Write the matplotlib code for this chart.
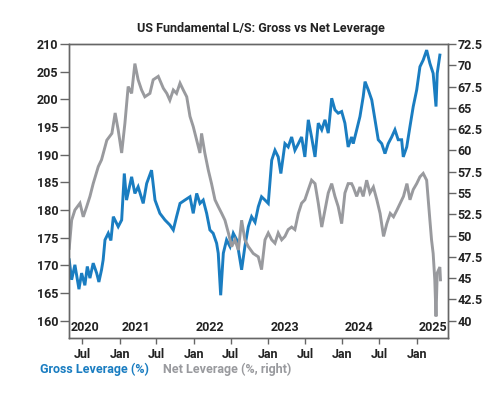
import matplotlib
matplotlib.use("Agg")
import matplotlib.pyplot as plt
import matplotlib.dates as mdates
import matplotlib.transforms as mtransforms
import pandas as pd

BLUE, GRAY, DARK, SPINE = "#1A7DC1", "#999A9E", "#222222", "#666666"
FONT = "Roboto"

# Gross leverage (%), left axis
gross_dates = [
 "2020-04-28","2020-05-10","2020-05-26","2020-06-15","2020-06-28","2020-07-14","2020-07-26",
 "2020-08-08","2020-08-24","2020-09-10","2020-09-21","2020-10-04","2020-10-12","2020-10-21",
 "2020-11-06","2020-11-19","2020-12-01","2020-12-25","2021-01-11","2021-01-24","2021-02-04",
 "2021-03-01","2021-03-17","2021-04-02","2021-04-27","2021-05-14","2021-06-07","2021-06-24",
 "2021-07-18","2021-08-12","2021-09-05","2021-09-22","2021-10-08","2021-10-25","2021-11-18",
 "2021-12-13","2021-12-29","2022-01-15","2022-01-31","2022-02-16","2022-03-05","2022-03-21",
 "2022-04-06","2022-04-23","2022-05-01","2022-05-13","2022-05-26","2022-06-11","2022-06-28",
 "2022-07-14","2022-07-31","2022-08-24","2022-09-09","2022-09-26","2022-10-12","2022-10-29",
 "2022-11-14","2022-11-30","2022-12-17","2023-01-02","2023-01-19","2023-02-04","2023-02-20",
 "2023-03-05","2023-03-25","2023-04-10","2023-04-27","2023-05-13","2023-05-30","2023-06-15",
 "2023-07-01","2023-07-18","2023-08-03","2023-08-20","2023-09-05","2023-09-22","2023-10-08",
 "2023-10-24","2023-11-10","2023-11-26","2023-12-12","2023-12-29","2024-01-14","2024-01-30",
 "2024-02-16","2024-02-24","2024-03-12","2024-03-28","2024-04-13","2024-04-22","2024-05-08",
 "2024-05-25","2024-06-10","2024-06-26","2024-07-13","2024-07-29","2024-08-14","2024-08-31",
 "2024-09-16","2024-10-02","2024-10-19","2024-10-27","2024-11-13","2024-11-29","2024-12-15",
 "2025-01-01","2025-01-17","2025-02-02","2025-02-19","2025-03-07","2025-03-23","2025-04-06",
 "2025-04-12","2025-04-25",
]
gross = [
 171.0,167.4,170.1,165.7,168.6,166.4,169.8,
 167.7,170.4,168.6,167.0,169.2,171.0,174.6,
 175.8,174.5,178.8,177.0,178.2,186.6,181.8,
 186.0,183.0,184.2,181.2,184.8,187.2,181.8,
 179.4,178.2,177.3,176.4,178.8,181.2,181.8,
 182.4,179.4,183.0,181.2,181.8,179.4,176.4,
 175.8,174.0,172.2,164.6,172.2,174.6,173.4,
 175.8,174.6,169.2,173.4,177.0,178.8,177.8,
 180.6,182.4,181.8,181.2,189.0,190.8,189.6,
 186.6,192.0,191.4,193.2,190.8,192.0,193.2,
 189.6,196.3,193.2,189.6,195.7,194.5,196.3,
 193.9,200.2,198.1,197.5,197.8,195.7,191.4,
 193.2,192.0,194.5,196.9,200.5,203.2,201.7,
 199.9,196.3,192.7,192.0,190.2,192.0,193.2,
 194.5,192.7,192.7,189.6,191.4,195.1,198.7,
 201.7,205.9,207.1,208.9,206.5,204.7,198.7,
 204.7,208.0,
]

# Net leverage (%), right axis
net_dates = [
 "2020-04-28","2020-05-10","2020-05-26","2020-06-20","2020-07-06","2020-07-23","2020-08-08",
 "2020-08-24","2020-09-18","2020-10-04","2020-10-30","2020-11-24","2020-12-10","2020-12-25",
 "2021-01-11","2021-01-27","2021-02-12","2021-03-01","2021-03-17","2021-04-02","2021-04-19",
 "2021-05-05","2021-05-30","2021-06-15","2021-07-10","2021-08-04","2021-08-21","2021-09-05",
 "2021-09-22","2021-10-08","2021-10-25","2021-11-10","2021-11-27","2021-12-13","2021-12-29",
 "2022-01-15","2022-01-31","2022-02-08","2022-02-24","2022-03-13","2022-03-29","2022-04-15",
 "2022-05-01","2022-05-18","2022-06-03","2022-06-20","2022-07-06","2022-07-22","2022-08-08",
 "2022-08-24","2022-09-09","2022-09-26","2022-10-20","2022-11-14","2022-11-30","2022-12-17",
 "2023-01-02","2023-01-19","2023-02-04","2023-02-20","2023-03-09","2023-03-25","2023-04-10",
 "2023-04-27","2023-05-13","2023-05-30","2023-06-15","2023-07-01","2023-07-18","2023-08-03",
 "2023-08-20","2023-09-05","2023-09-22","2023-10-08","2023-10-24","2023-11-10","2023-11-26",
 "2023-12-12","2023-12-29","2024-01-14","2024-01-30","2024-02-16","2024-02-24","2024-03-12",
 "2024-03-28","2024-04-13","2024-04-30","2024-05-16","2024-06-02","2024-06-19","2024-07-05",
 "2024-07-22","2024-08-07","2024-08-24","2024-09-09","2024-09-26","2024-10-12","2024-10-28",
 "2024-11-14","2024-11-29","2024-12-15","2025-01-01","2025-01-17","2025-02-02","2025-02-19",
 "2025-03-07","2025-03-15","2025-03-23","2025-03-31","2025-04-06","2025-04-12","2025-04-25",
 "2025-04-28",
]
net = [
 48.5,51.8,53.0,53.8,52.2,53.4,54.6,
 56.1,58.1,58.9,61.2,62.0,64.4,62.4,
 59.7,63.2,67.5,66.7,70.2,68.3,67.1,
 66.3,66.7,68.3,68.7,67.3,66.7,65.9,
 67.1,66.7,67.9,67.1,66.3,64.0,62.8,
 61.2,59.7,62.0,59.7,57.7,56.1,54.2,
 53.4,52.6,51.8,50.3,48.7,49.5,48.3,
 51.8,49.5,48.7,47.9,47.5,46.0,49.5,
 50.3,49.5,49.1,50.3,49.5,49.9,50.7,
 51.0,50.7,52.6,53.8,54.2,55.4,56.5,
 56.1,53.8,51.0,53.0,55.0,56.1,54.6,
 53.4,51.4,55.0,56.1,56.1,55.7,54.6,
 55.7,54.6,56.5,55.0,55.7,54.2,52.6,
 49.9,51.4,52.6,52.2,53.0,53.8,54.6,
 56.1,54.2,55.4,56.1,56.9,57.3,56.5,
 51.8,49.5,47.9,44.8,40.5,45.6,46.3,
 44.8,
]

year_labels = ["2020", "2021", "2022", "2023", "2024", "2025"]
x_range = ["2020-04-27", "2025-06-04"]

gd = pd.to_datetime(gross_dates)
nd = pd.to_datetime(net_dates)
xlim = pd.to_datetime(x_range)

fig = plt.figure(figsize=(5.0, 3.93), dpi=100)
ax = fig.add_axes([0.138, 0.1407, 0.758, 0.7473])
ax2 = ax.twinx()

ax.plot(gd, gross, color=BLUE, lw=2.1, solid_joinstyle="miter")
ax2.plot(nd, net, color=GRAY, lw=2.1, solid_joinstyle="miter")

ax.set_xlim(xlim[0], xlim[1])
ax.set_ylim(156.93, 210)
ax2.set_ylim(38.0, 72.5)
ax.set_yticks(range(160, 211, 5))
ax2.set_yticks([40, 42.5, 45, 47.5, 50, 52.5, 55, 57.5, 60, 62.5, 65, 67.5, 70, 72.5])
ax2.set_yticklabels(["40", "42.5", "45", "47.5", "50", "52.5", "55", "57.5", "60",
                     "62.5", "65", "67.5", "70", "72.5"])

ax.xaxis.set_major_locator(mdates.MonthLocator(bymonth=[1, 7]))
ax.xaxis.set_major_formatter(mdates.DateFormatter("%b"))

for a in (ax, ax2):
    for s in a.spines.values():
        s.set_color(SPINE)
        s.set_linewidth(1.0)
ax.tick_params(axis="x", length=4.5, width=1, color=SPINE, pad=3,
               labelsize=9, labelcolor=DARK)
ax.tick_params(axis="y", length=6.5, width=1, color=SPINE, pad=1,
               labelsize=9, labelcolor=DARK)
ax2.tick_params(axis="y", length=6, width=1, color=SPINE, pad=1,
                labelsize=9, labelcolor=DARK)
for lab in ax.get_xticklabels() + ax.get_yticklabels() + ax2.get_yticklabels():
    lab.set_fontfamily(FONT)
    lab.set_fontweight("bold")

# year labels sitting inside the plot at the start of each year
trans = mtransforms.blended_transform_factory(ax.transData, ax.transAxes)
for yl in year_labels:
    x0 = max(pd.Timestamp(yl + "-01-01"), xlim[0])
    ax.annotate(yl, xy=(mdates.date2num(x0), 0.0), xycoords=trans, xytext=(1.5, 2.5),
                textcoords="offset points", ha="left", va="bottom",
                fontsize=9, fontweight="bold", family=FONT, color=DARK)

fig.text(0.522, 0.918, "US Fundamental L/S: Gross vs Net Leverage", ha="center",
         va="baseline", fontsize=9, fontweight="bold", family=FONT, color=DARK)
fig.text(0.08, 0.052, "Gross Leverage (%)", ha="left", va="baseline",
         fontsize=9, fontweight="bold", family=FONT, color=BLUE)
fig.text(0.326, 0.052, "Net Leverage (%, right)", ha="left", va="baseline",
         fontsize=9, fontweight="bold", family=FONT, color=GRAY)

fig.savefig("out.png", dpi=100)
